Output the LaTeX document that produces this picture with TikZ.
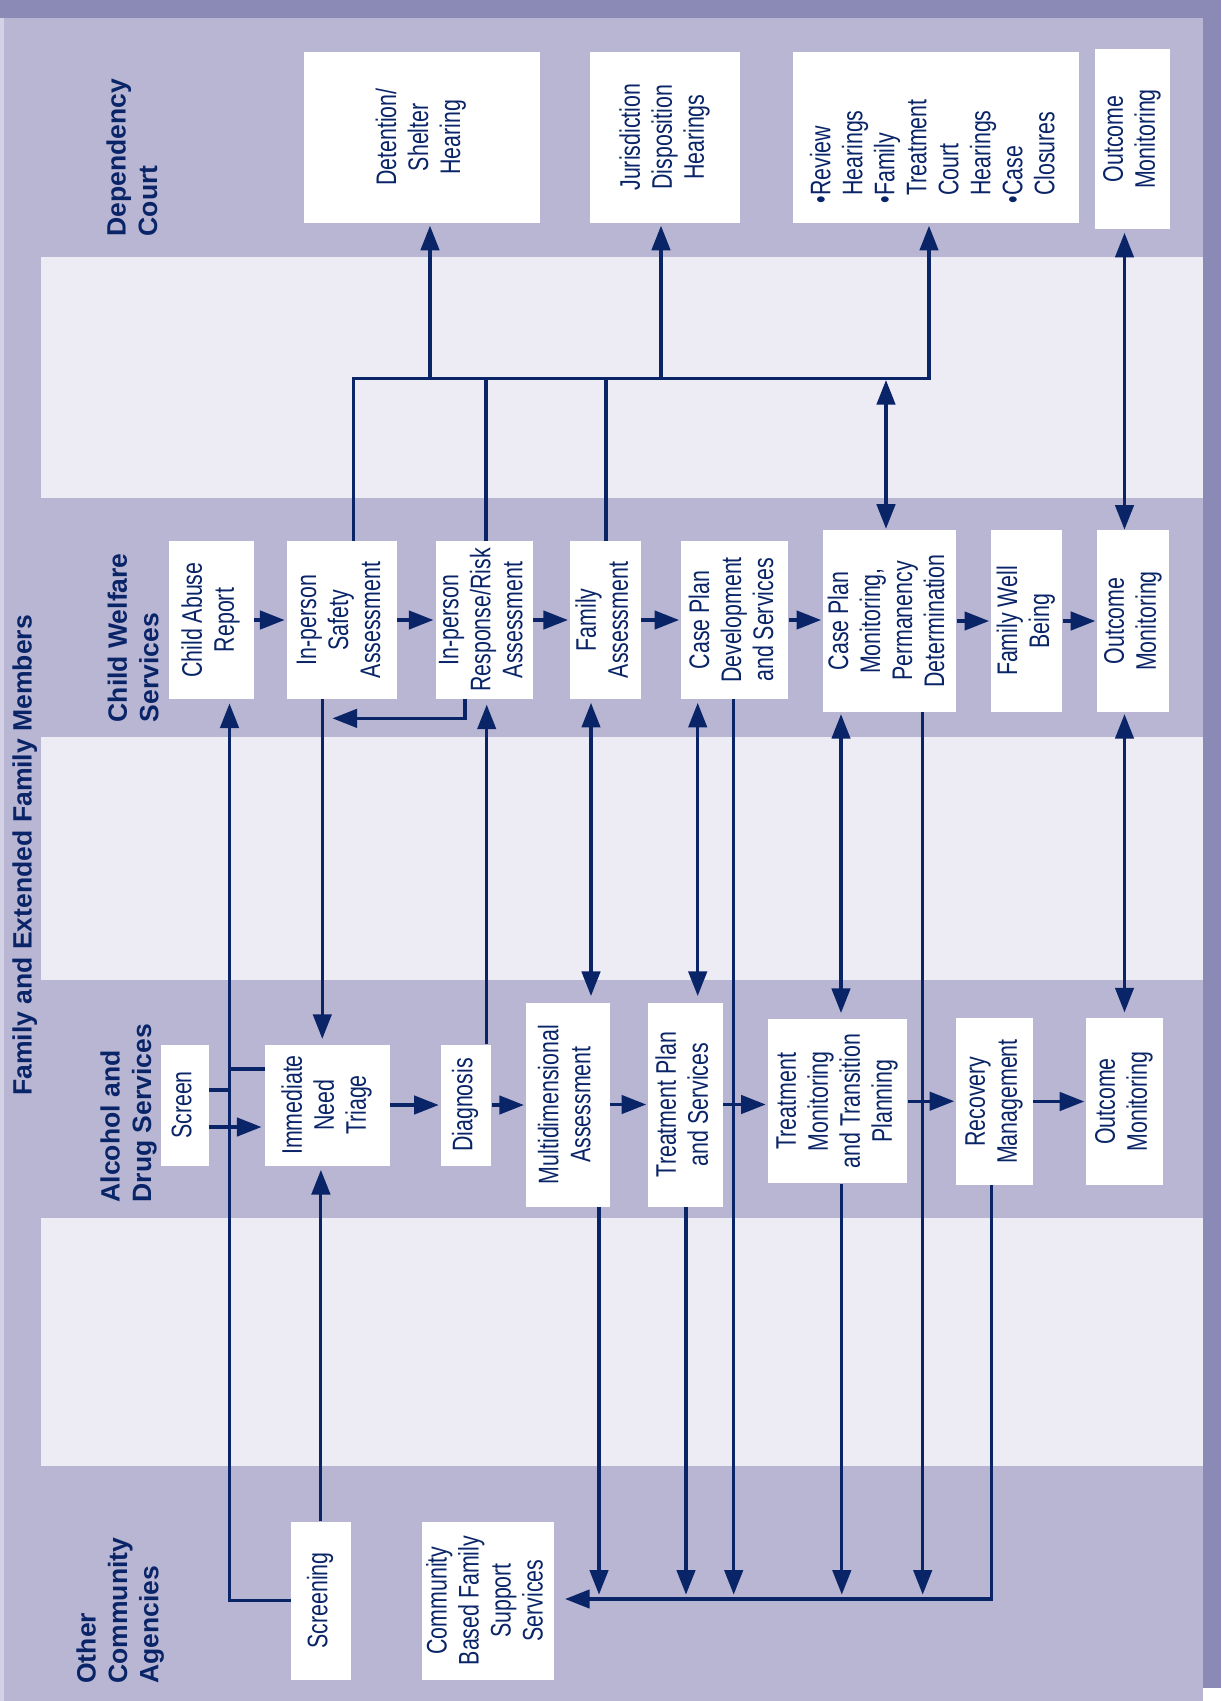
\documentclass[tikz,border=0pt]{standalone}
\usepackage{fontspec}
\setmainfont{Liberation Sans}
\newfontfamily\boxfont{Liberation Sans}[FakeStretch=0.755]
\usetikzlibrary{arrows.meta,calc,positioning}

\definecolor{navy}{HTML}{0A2468}
\definecolor{lav}{HTML}{B8B6D3}
\definecolor{pale}{HTML}{EDEBF3}
\definecolor{rim}{HTML}{8B8AB6}
\definecolor{rimlight}{HTML}{D3D2E6}

% rotated box text
\newcommand{\vlab}[2][c]{\rotatebox{90}{\begin{tabular}{@{}#1@{}}#2\end{tabular}}}

\tikzset{
  box/.style={fill=white,inner sep=0pt,text=navy,font=\boxfont\fontsize{16.1pt}{18.2pt}\selectfont},
  sz/.style 2 args={minimum width=#1*0.02cm,minimum height=#2*0.02cm},
  lane/.style={rotate=90,anchor=north west,inner sep=0pt,align=left,text=navy,
    font=\bfseries\fontsize{15.1pt}{17.9pt}\selectfont},
  conn/.style={draw=navy,line width=1.8pt},
  arr/.style={conn,-{Triangle[length=14pt,width=10.5pt]},shorten >=1pt},
  varr/.style={conn,-{Triangle[length=14pt,width=10.5pt]},shorten >=2.3pt},
  darr/.style={conn,{Triangle[length=14pt,width=10.5pt]}-{Triangle[length=14pt,width=10.5pt]},
    shorten >=2pt,shorten <=2pt},
  tobus/.style={conn,-{Triangle[length=14pt,width=10.5pt]},shorten >=2.5pt}
}

\begin{document}
\begin{tikzpicture}[x=0.02cm,y=-0.02cm]
\useasboundingbox (0,0) rectangle (1221,1701);
% background and lanes
\fill[white] (0,0) rectangle (1221,1701);
\fill[lav] (0,0) rectangle (1203,1701);
\fill[rim] (0,0) rectangle (1221,18.4);
\fill[rim] (1203,0) rectangle (1221,1688);
\fill[rimlight] (0,18.4) rectangle (4,1701);
\fill[pale] (41,257) rectangle (1203,498);
\fill[pale] (41,737) rectangle (1203,980);
\fill[pale] (41,1218) rectangle (1203,1466);

\node[lane] (lblcourt) at (106,236.7) {Dependency\\Court};
\node[lane] (lblcws) at (107.3,722.7) {Child Welfare\\Services};
\node[lane] (lblfamily) at (12,1096) {Family and Extended Family Members};
\node[lane] (lblads) at (100,1202.7) {Alcohol and\\Drug Services};
\node[lane] (lbloca) at (76,1684) {Other\\Community\\Agencies};

% dependency court
\node[box,sz={236}{171}] (detention) at (421.7,137.2) {\vlab{Detention/\\Shelter\\Hearing}};
\node[box,sz={150}{171}] (jurisd) at (665.4,137.2) {\vlab{Jurisdiction\\Disposition\\Hearings}};
\node[box,sz={286}{171}] (review) at (936,137.3) {\vlab[r@{}l@{\hspace{16pt}}]{\textbullet&Review\\&Hearings\\\textbullet&Family\\&Treatment\\&Court\\&Hearings\\\textbullet&Case\\&Closures}};
\node[box,sz={75}{180}] (dcout) at (1132.5,139) {\vlab{Outcome\\Monitoring}};

% child welfare services
\node[box,sz={85}{158}] (abuse) at (211.5,620) {\vlab{Child Abuse\\Report}};
\node[box,sz={110}{158}] (safety) at (341.7,620) {\vlab{In-person\\Safety\\Assessment}};
\node[box,sz={97}{158}] (risk) at (484,620) {\vlab{In-person\\Response/Risk\\Assessment}};
\node[box,sz={71}{158}] (famassess) at (605.5,620) {\vlab{Family\\Assessment}};
\node[box,sz={107}{158}] (cpdev) at (734.7,620) {\vlab{Case Plan\\Development\\and Services}};
\node[box,sz={133}{182}] (cpmon) at (889.7,621) {\vlab{Case Plan\\Monitoring,\\Permanency\\Determination}};
\node[box,sz={71}{182}] (wellbeing) at (1026.7,621) {\vlab{Family Well\\Being}};
\node[box,sz={72}{182}] (cwsout) at (1133.4,621) {\vlab{Outcome\\Monitoring}};

% alcohol and drug services
\node[box,sz={48}{121}] (screen) at (185,1105) {\vlab{Screen}};
\node[box,sz={125}{121}] (triage) at (327.5,1105) {\vlab{Immediate\\Need\\Triage}};
\node[box,sz={50.6}{121}] (diag) at (466.1,1105) {\vlab{Diagnosis}};
\node[box,sz={84}{204}] (multi) at (568,1104.5) {\vlab{Multidimensional\\Assessment}};
\node[box,sz={74.4}{204}] (tplan) at (685.5,1104.5) {\vlab{Treatment Plan\\and Services}};
\node[box,sz={139.4}{164.4}] (tmon) at (837.5,1101.2) {\vlab{Treatment\\Monitoring\\and Transition\\Planning}};
\node[box,sz={76.3}{167}] (recov) at (994.5,1101.5) {\vlab{Recovery\\Management}};
\node[box,sz={76.2}{167}] (adsout) at (1124.5,1101.5) {\vlab{Outcome\\Monitoring}};

% other community agencies
\node[box,sz={59.2}{158}] (screening) at (320.9,1600.5) {\vlab{Screening}};
\node[box,sz={132.5}{158}] (cbfs) at (488.2,1600.5) {\vlab{Community\\Based Family\\Support\\Services}};

% links up to the court
\coordinate (dcbus) at ($(review.south)+(-7,155.3)$);
\draw[varr,shorten >=1.5pt] ($(safety.north)+(12,0)$) |- (dcbus) -- ($(review.south)+(-7,0)$);
\draw[varr,shorten >=1.5pt] ($(detention.south)+(8.3,155.3)$) -- ($(detention.south)+(8.3,0)$);
\draw[varr,shorten >=1.5pt] ($(jurisd.south)+(-4.4,155.3)$) -- ($(jurisd.south)+(-4.4,0)$);
\draw[conn] ($(risk.north)+(2,0)$) -- ++(0,-163);
\draw[conn] ($(famassess.north)+(0.5,0)$) -- ++(0,-163);
\draw[darr,shorten <=0.5pt,shorten >=0.5pt] ($(cpmon.north)+(-3.7,0)$) -- ++(0,-150.5);
\draw[darr,shorten >=0pt] (dcout.south -| adsout.north) -- (cwsout.north -| adsout.north);

% child welfare row
\draw[arr] (abuse.east) -- (safety.west);
\draw[arr] (safety.east) -- (risk.west);
\draw[arr] (risk.east) -- (famassess.west);
\draw[arr] (famassess.east) -- (cpdev.west);
\draw[arr] (cpdev.east) -- (cpdev.east -| cpmon.west);
\draw[arr] (cpmon.east) -- (wellbeing.west);
\draw[arr] (wellbeing.east) -- (cwsout.west);
\draw[arr] ($(risk.south)+(-19,0)$) |- ($(safety.south)+(-11,19)$);

% between child welfare and treatment
\coordinate (sd) at ($(safety.south)+(-19.4,0)$);
\draw[varr,shorten >=3pt] (sd) -- (sd |- triage.north);
\coordinate (du) at ($(diag.north)+(20.6,0)$);
\draw[varr,shorten >=3pt] (du) -- (du |- risk.south);
\coordinate (fm) at ($(famassess.south)+(-14.5,0)$);
\draw[darr,shorten >=3.5pt] (fm) -- (fm |- multi.north);
\coordinate (ct) at ($(cpdev.south)+(-37,0)$);
\draw[darr,shorten >=3.5pt] (ct) -- (ct |- tplan.north);
\coordinate (mt) at ($(cpmon.south)+(-48.7,0)$);
\draw[darr,shorten <=1pt,shorten >=3.2pt] (mt) -- (mt |- tmon.north);
\draw[darr,shorten <=1pt,shorten >=3pt] (cwsout.south -| adsout.north) -- (adsout.north);

% treatment row
\draw[arr] (triage.east) -- (diag.west);
\draw[arr] (diag.east) -- (diag.east -| multi.west);
\draw[arr] (multi.east) -- (tplan.west);
\draw[arr] (tplan.east) -- (tplan.east -| tmon.west);
\draw[arr] (tmon.east) -- (tmon.east -| recov.west);
\draw[arr] (recov.east) -- (adsout.west);

% screening links
\coordinate (upx) at ($(abuse.south)+(18,0)$);
\draw[varr] (screening.west) -| (upx);
\coordinate (sc) at ($(screen.east)+(0,-15)$);
\draw[conn] (sc) -- (sc -| upx);
\coordinate (tr) at ($(triage.west)+(0,-36)$);
\draw[conn] (tr -| upx) -- (tr);
\draw[arr,shorten >=1.8pt] ($(screen.east)+(0,22)$) -- ($(triage.west)+(0,22)$);
\draw[varr] (screening.north) -- (screening.north |- triage.south);

% down to community services
\coordinate (ocabus) at ($(cbfs.east)+(8.5,-1.5)$);
\draw[arr] ($(recov.south)+(-3.2,0)$) |- (ocabus);
\coordinate (d1) at ($(multi.south)+(31,0)$);
\draw[tobus] (d1) -- (d1 |- ocabus);
\coordinate (d2) at ($(tplan.south)+(0.5,0)$);
\draw[tobus] (d2) -- (d2 |- ocabus);
\coordinate (d3) at ($(cpdev.south)+(-1,0)$);
\draw[tobus] (d3) -- (d3 |- ocabus);
\coordinate (d4) at ($(tmon.south)+(4.3,0)$);
\draw[tobus] (d4) -- (d4 |- ocabus);
\coordinate (d5) at ($(cpmon.south)+(33,0)$);
\draw[tobus] (d5) -- (d5 |- ocabus);
\end{tikzpicture}
\end{document}
